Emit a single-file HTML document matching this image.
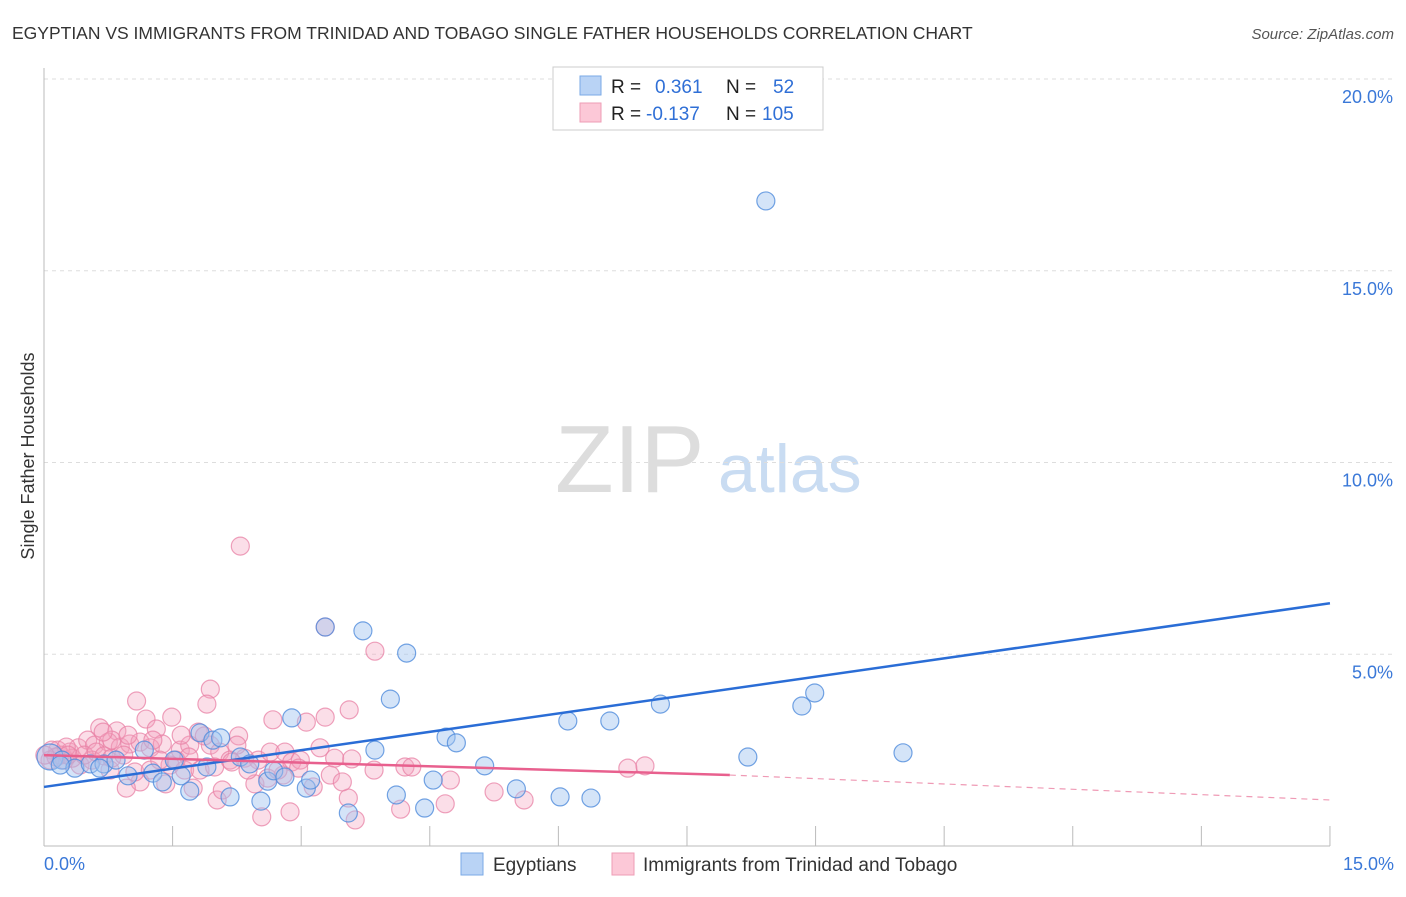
<!DOCTYPE html>
<html><head><meta charset="utf-8"><style>
body{margin:0;background:#fff;font-family:"Liberation Sans",sans-serif;}
svg text{font-family:"Liberation Sans",sans-serif;}
</style></head><body>
<svg id="chart" width="1406" height="892">
<text x="12" y="39" font-size="17.5" fill="#333">EGYPTIAN VS IMMIGRANTS FROM TRINIDAD AND TOBAGO SINGLE FATHER HOUSEHOLDS CORRELATION CHART</text>
<text x="1394" y="39" font-size="15" fill="#555" font-style="italic" text-anchor="end">Source: ZipAtlas.com</text>
<text x="34" y="456" font-size="18" fill="#333" text-anchor="middle" transform="rotate(-90 34 456)">Single Father Households</text>
<text x="555" y="492" font-size="96" fill="#ddd" font-family="Liberation Serif">ZIP</text>
<text x="718" y="492" font-size="68" fill="#c9dcf2">atlas</text>
<g id="grid"></g><g id="axes"></g><g id="pts"></g><g id="trends"></g>
<g>
<rect x="553" y="67" width="270" height="63" fill="#fff" stroke="#ccc"/>
<rect x="580" y="76" width="21" height="19" fill="#b9d3f5" stroke="#7aaae6"/>
<rect x="580" y="103" width="21" height="19" fill="#fcc8d7" stroke="#ee9db6"/>
<text x="611" y="93" font-size="19" fill="#222">R = <tspan fill="#2f6fd6" x="655">0.361</tspan><tspan fill="#222" x="726">N =</tspan><tspan fill="#2f6fd6" x="773">52</tspan></text>
<text x="611" y="120" font-size="19" fill="#222">R = <tspan fill="#2f6fd6" x="646">-0.137</tspan><tspan fill="#222" x="726">N =</tspan><tspan fill="#2f6fd6" x="762">105</tspan></text>
</g>
<g>
<rect x="461" y="853" width="22" height="22" fill="#b9d3f5" stroke="#7aaae6"/>
<text x="493" y="871" font-size="19" fill="#333">Egyptians</text>
<rect x="612" y="853" width="22" height="22" fill="#fcc8d7" stroke="#ee9db6"/>
<text x="643" y="871" font-size="19" fill="#333">Immigrants from Trinidad and Tobago</text>
</g>
</svg>
<script>
const yTicks=[5,10,15,20];
const yTickLabels=["5.0%","10.0%","15.0%","20.0%"];
const xTickLabels=["0.0%","15.0%"];
const blueXpx=[50,62,75,90,104,116,128,144,153,162,174,181,190,200,207,213,221,230,240,250,261,268,274,285,292,306,311,325,348,363,375,390,396,407,425,433,446,456,485,516,560,568,591,610,660,748,766,802,815,903,60,100];
const blueYpx=[757,760,768,764,764,760,776,750,773,782,760,776,791,733,767,740,738,797,757,764,801,781,771,777,718,788,780,627,813,631,750,699,795,653,808,780,737,743,766,789,797,721,798,721,704,757,201,706,693,753,765,768];
const pinkXpx=[240,137,210,207,375,325,349,146,172,100,117,156,239,273,306,325,58,70,78,88,95,108,120,130,140,150,162,180,190,198,210,220,230,245,258,270,285,292,300,320,335,352,374,405,412,450,494,524,628,645,348,355,262,290,401,445,140,126,166,193,217,222,255,268,283,313,330,342,65,80,92,110,135,150,170,185,200,215,60,72,84,96,104,112,124,160,176,189,232,248,278,299,112,103,128,153,204,237,181,52,66,50,56,68,45];
const pinkYpx=[546,701,689,704,651,627,710,719,717,728,731,729,736,720,722,717,750,752,748,740,745,742,747,744,742,748,744,750,745,732,745,752,760,758,760,752,752,762,760,748,758,759,770,767,767,780,792,800,768,766,798,820,817,812,809,804,782,788,784,788,800,790,784,778,775,787,775,782,760,765,760,770,772,770,765,770,770,767,755,758,755,752,756,758,755,760,760,757,762,770,770,768,740,732,735,740,736,745,735,750,747,760,757,755,755];
// convert pixel reads to data units
const blueX=blueXpx.map(p=>+((p-44)/85.73).toFixed(2)), blueY=blueYpx.map(p=>+((846-p)/38.35).toFixed(2));
const pinkX=pinkXpx.map(p=>+((p-44)/85.73).toFixed(2)), pinkY=pinkYpx.map(p=>+((846-p)/38.35).toFixed(2));
const blueTrendX=[0,15], blueTrendY=[1.54,6.33];
const pinkTrendX=[0,8,15], pinkTrendY=[2.37,1.85,1.2];
const X=v=>44+v*85.73, Y=v=>846-v*38.35;
const NS="http://www.w3.org/2000/svg";
function mk(tag,attrs,parent){const e=document.createElementNS(NS,tag);for(const k in attrs)e.setAttribute(k,attrs[k]);parent.appendChild(e);return e;}
const grid=document.getElementById('grid'),axes=document.getElementById('axes'),pts=document.getElementById('pts'),tr=document.getElementById('trends');
yTicks.forEach((t,i)=>{
 const l=mk('line',{x1:44,x2:1394,y1:Y(t),y2:Y(t),stroke:'#ddd','stroke-dasharray':'4,4'},grid);
 
 
 const tx=mk('text',{x:1393,y:Y(t)+24,'font-size':18,fill:'#3a78d8','text-anchor':'end'},grid);
 tx.textContent=yTickLabels[i];
 
 
});
const a1=mk('line',{x1:44,x2:44,y1:68,y2:846,stroke:'#bbb'},axes);


const a2=mk('line',{x1:44,x2:1330,y1:846,y2:846,stroke:'#bbb'},axes);


for(let i=0;i<=10;i++){const v=i*1.5;
 const t=mk('line',{x1:X(v),x2:X(v),y1:826,y2:846,stroke:'#bbb'},axes);
 
 }
[[0,'start',44],[15,'end',1394]].forEach((d,i)=>{
 const t=mk('text',{x:d[2],y:870,'font-size':18,fill:'#3a78d8','text-anchor':d[1]},axes);
 t.textContent=xTickLabels[i];
 
 });
pinkX.forEach((x,i)=>{
 const c=mk('circle',{cx:X(x),cy:Y(pinkY[i]),r:9,fill:'rgba(244,160,188,0.35)',stroke:'rgba(232,130,165,0.75)','stroke-width':1.2},pts);
 
 });
blueX.forEach((x,i)=>{
 const c=mk('circle',{cx:X(x),cy:Y(blueY[i]),r:i==0?13:9,fill:'rgba(160,196,240,0.45)',stroke:'rgba(80,140,220,0.8)','stroke-width':1.2},pts);
 
 });
const bl=mk('line',{x1:X(blueTrendX[0]),y1:Y(blueTrendY[0]),x2:X(blueTrendX[1]),y2:Y(blueTrendY[1]),stroke:'#2a6dd6','stroke-width':2.5},tr);


const pl=mk('line',{x1:X(pinkTrendX[0]),y1:Y(pinkTrendY[0]),x2:X(pinkTrendX[1]),y2:Y(pinkTrendY[1]),stroke:'#e8608e','stroke-width':2.5},tr);


const pd=mk('line',{x1:X(pinkTrendX[1]),y1:Y(pinkTrendY[1]),x2:X(pinkTrendX[2]),y2:Y(pinkTrendY[2]),stroke:'#ef9ab5','stroke-width':1.2,'stroke-dasharray':'6,5'},tr);


</script>
</body></html>
